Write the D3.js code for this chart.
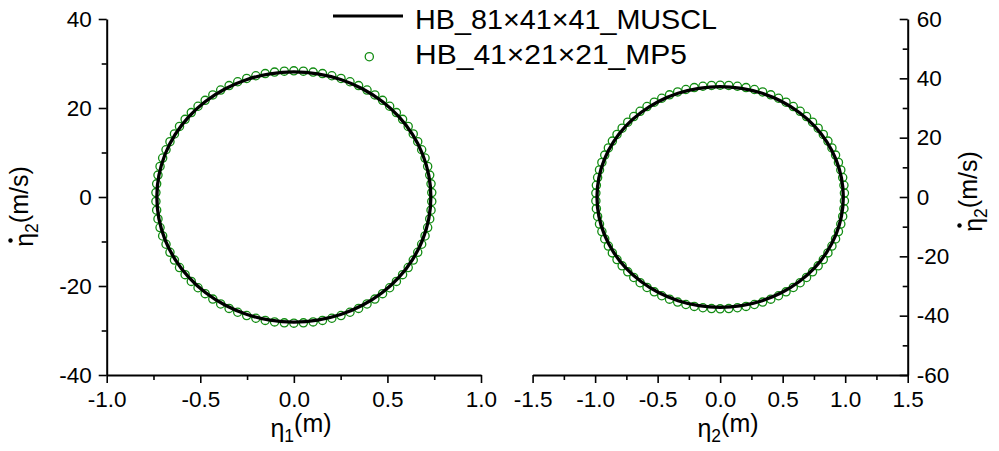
<!DOCTYPE html>
<html><head><meta charset="utf-8">
<script src="https://cdn.jsdelivr.net/npm/d3@7"></script>
<style>body{margin:0;background:#fff}text{font-family:"Liberation Sans",Arial,sans-serif;fill:#000}</style>
</head><body><svg id="c" width="999" height="451"></svg>
<script>
// ---- tick labels ----
const leftXTicks=[-1.0,-0.5,0.0,0.5,1.0];
const leftXMinor=[-0.75,-0.25,0.25,0.75];
const leftYTicks=[-40,-20,0,20,40];
const leftYMinor=[-30,-10,10,30];
const rightXTicks=[-1.5,-1.0,-0.5,0.0,0.5,1.0,1.5];
const rightXMinor=[-1.25,-0.75,-0.25,0.25,0.75,1.25];
const rightYTicks=[-60,-40,-20,0,20,40,60];
const rightYMinor=[-50,-30,-10,10,30,50];
const legendLabels=["HB_81×41×41_MUSCL","HB_41×21×21_MP5"];

// ---- HB_81x41x41_MUSCL (line), left panel: eta1 vs eta2dot ----
const musclLeftX=[0.732,0.721,0.688,0.634,0.561,0.471,0.366,0.250,0.127,0,-0.127,-0.250,-0.366,-0.471,-0.561,-0.634,-0.688,-0.721,-0.732,-0.721,-0.688,-0.634,-0.561,-0.471,-0.366,-0.250,-0.127,0,0.127,0.250,0.366,0.471,0.561,0.634,0.688,0.721];
const musclLeftV=[0,4.88,9.61,14.05,18.06,21.52,24.34,26.41,27.67,28.1,27.67,26.41,24.34,21.52,18.06,14.05,9.61,4.88,0,-4.88,-9.61,-14.05,-18.06,-21.52,-24.34,-26.41,-27.67,-28.1,-27.67,-26.41,-24.34,-21.52,-18.06,-14.05,-9.61,-4.88];
// right panel: eta2 vs eta2dot
const musclRightX=[0.985,0.970,0.926,0.853,0.755,0.633,0.493,0.337,0.171,0,-0.171,-0.337,-0.493,-0.633,-0.755,-0.853,-0.926,-0.970,-0.985,-0.970,-0.926,-0.853,-0.755,-0.633,-0.493,-0.337,-0.171,0,0.171,0.337,0.493,0.633,0.755,0.853,0.926,0.970];
const musclRightV=[0,6.46,12.72,18.60,23.91,28.50,32.22,34.96,36.63,37.20,36.63,34.96,32.22,28.50,23.91,18.60,12.72,6.46,0,-6.46,-12.72,-18.60,-23.91,-28.50,-32.22,-34.96,-36.63,-37.20,-36.63,-34.96,-32.22,-28.50,-23.91,-18.60,-12.72,-6.46];

// ---- HB_41x21x21_MP5 (circles) ----
const mp5LeftX=[0.737,0.733,0.726,0.715,0.701,0.683,0.662,0.638,0.611,0.581,0.548,0.512,0.474,0.433,0.391,0.346,0.300,0.252,0.203,0.153,0.103,0.051,0.000,
-0.051,-0.103,-0.153,-0.203,-0.252,-0.300,-0.346,-0.391,-0.433,-0.474,-0.512,-0.548,-0.581,-0.611,-0.638,-0.662,-0.683,-0.701,-0.715,-0.726,-0.733,-0.737,
-0.737,-0.733,-0.726,-0.715,-0.701,-0.683,-0.662,-0.638,-0.611,-0.581,-0.548,-0.512,-0.474,-0.433,-0.391,-0.346,-0.300,-0.252,-0.203,-0.153,-0.103,-0.051,
0.000,0.051,0.103,0.153,0.203,0.252,0.300,0.346,0.391,0.433,0.474,0.512,0.548,0.581,0.611,0.638,0.662,0.683,0.701,0.715,0.726,0.733,0.737];
const mp5LeftV=[0.99,2.96,4.92,6.86,8.76,10.62,12.43,14.18,15.85,17.45,18.97,20.39,21.72,22.94,24.04,25.03,25.90,26.64,27.25,27.73,28.07,28.28,28.35,
28.28,28.07,27.73,27.25,26.64,25.90,25.03,24.04,22.94,21.72,20.39,18.97,17.45,15.85,14.18,12.43,10.62,8.76,6.86,4.92,2.96,0.99,
-0.99,-2.96,-4.92,-6.86,-8.76,-10.62,-12.43,-14.18,-15.85,-17.45,-18.97,-20.39,-21.72,-22.94,-24.04,-25.03,-25.90,-26.64,-27.25,-27.73,-28.07,-28.28,
-28.35,-28.28,-28.07,-27.73,-27.25,-26.64,-25.90,-25.03,-24.04,-22.94,-21.72,-20.39,-18.97,-17.45,-15.85,-14.18,-12.43,-10.62,-8.76,-6.86,-4.92,-2.96,-0.99];
const mp5RightX=[0.994,0.990,0.980,0.965,0.946,0.923,0.894,0.862,0.825,0.784,0.739,0.691,0.640,0.585,0.527,0.467,0.405,0.340,0.274,0.207,0.138,0.069,0.000,
-0.069,-0.138,-0.207,-0.274,-0.340,-0.405,-0.467,-0.527,-0.585,-0.640,-0.691,-0.739,-0.784,-0.825,-0.862,-0.894,-0.923,-0.946,-0.965,-0.980,-0.990,-0.994,
-0.994,-0.990,-0.980,-0.965,-0.946,-0.923,-0.894,-0.862,-0.825,-0.784,-0.739,-0.691,-0.640,-0.585,-0.527,-0.467,-0.405,-0.340,-0.274,-0.207,-0.138,-0.069,
0.000,0.069,0.138,0.207,0.274,0.340,0.405,0.467,0.527,0.585,0.640,0.691,0.739,0.784,0.825,0.862,0.894,0.923,0.946,0.965,0.980,0.990,0.994];
const mp5RightV=[1.32,3.94,6.55,9.12,11.65,14.12,16.53,18.85,21.08,23.21,25.23,27.12,28.88,30.50,31.97,33.29,34.44,35.43,36.24,36.88,37.33,37.61,37.70,
37.61,37.33,36.88,36.24,35.43,34.44,33.29,31.97,30.50,28.88,27.12,25.23,23.21,21.08,18.85,16.53,14.12,11.65,9.12,6.55,3.94,1.32,
-1.32,-3.94,-6.55,-9.12,-11.65,-14.12,-16.53,-18.85,-21.08,-23.21,-25.23,-27.12,-28.88,-30.50,-31.97,-33.29,-34.44,-35.43,-36.24,-36.88,-37.33,-37.61,
-37.70,-37.61,-37.33,-36.88,-36.24,-35.43,-34.44,-33.29,-31.97,-30.50,-28.88,-27.12,-25.23,-23.21,-21.08,-18.85,-16.53,-14.12,-11.65,-9.12,-6.55,-3.94,-1.32];

const svg=d3.select("#c");
const GREEN="#128c12";
const TICKFONT=22.5, LABELFONT=25;

const panels=[
  {xd:[-1,1],xr:[106.7,481],yd:[-40,40],xt:leftXTicks,xm:leftXMinor,yt:leftYTicks,ym:leftYMinor,
   lx:musclLeftX,lv:musclLeftV,cx:mp5LeftX,cv:mp5LeftV,side:"left",sub:"1",ysub:"2",
   xlab:[301,437],ylab:[33,206.5]},
  {xd:[-1.5,1.5],xr:[532.6,907.7],yd:[-60,60],xt:rightXTicks,xm:rightXMinor,yt:rightYTicks,ym:rightYMinor,
   lx:musclRightX,lv:musclRightV,cx:mp5RightX,cv:mp5RightV,side:"right",sub:"2",ysub:"2",
   xlab:[728,437],ylab:[982,191.5]}
];
const yRange=[375,19];

function styleAxis(g,minor){
  g.selectAll(".domain").attr("stroke","#000").attr("stroke-width",2);
  g.selectAll(".tick line").attr("stroke","#000").attr("stroke-width",1.6);
  g.selectAll(".tick text").attr("font-size",TICKFONT).attr("font-family","Liberation Sans, Arial, sans-serif").attr("fill","#000");
  if(minor) g.select(".domain").remove();
}

panels.forEach(p=>{
  const x=d3.scaleLinear().domain(p.xd).range(p.xr);
  const y=d3.scaleLinear().domain(p.yd).range(yRange);
  const fx=d=>d.toFixed(1), fy=d=>String(d);

  // x axis
  svg.append("g").attr("transform",`translate(0,${yRange[0]})`)
    .call(d3.axisBottom(x).tickValues(p.xm).tickSize(5).tickSizeOuter(0).tickFormat(""))
    .call(g=>styleAxis(g,true));
  svg.append("g").attr("transform",`translate(0,${yRange[0]})`)
    .call(d3.axisBottom(x).tickValues(p.xt).tickSize(8).tickSizeOuter(0).tickPadding(8.5).tickFormat(fx))
    .call(g=>styleAxis(g,false));

  // y axis
  if(p.side==="left"){
    const X0=p.xr[0];
    svg.append("g").attr("transform",`translate(${X0},0)`)
      .call(d3.axisLeft(y).tickValues(p.ym).tickSize(5).tickSizeOuter(0).tickFormat(""))
      .call(g=>styleAxis(g,true));
    svg.append("g").attr("transform",`translate(${X0},0)`)
      .call(d3.axisLeft(y).tickValues(p.yt).tickSize(8).tickSizeOuter(0).tickPadding(7).tickFormat(fy))
      .call(g=>styleAxis(g,false));
  } else {
    const X1=p.xr[1];
    svg.append("g").attr("transform",`translate(${X1},0)`)
      .call(d3.axisRight(y).tickValues(p.ym).tickSize(-5).tickSizeOuter(0).tickFormat(""))
      .call(g=>styleAxis(g,true));
    svg.append("g").attr("transform",`translate(${X1},0)`)
      .call(d3.axisRight(y).tickValues(p.yt).tickSize(-8).tickSizeOuter(0).tickPadding(9).tickFormat(fy))
      .call(g=>styleAxis(g,false));
  }

  // MP5 circles
  svg.append("g").selectAll("circle").data(p.cx.map((v,i)=>[v,p.cv[i]])).join("circle")
    .attr("cx",d=>x(d[0])).attr("cy",d=>y(d[1])).attr("r",4.1)
    .attr("fill","none").attr("stroke",GREEN).attr("stroke-width",1.3);

  // MUSCL line
  const line=d3.line().x(d=>x(d[0])).y(d=>y(d[1])).curve(d3.curveCatmullRomClosed);
  svg.append("path").datum(p.lx.map((v,i)=>[v,p.lv[i]]))
    .attr("d",line).attr("fill","none").attr("stroke","#000").attr("stroke-width",3.3);

  // x label
  const xl=svg.append("text").attr("x",p.xlab[0]).attr("y",p.xlab[1]).attr("text-anchor","middle").attr("font-size",LABELFONT);
  xl.append("tspan").text("η");
  xl.append("tspan").attr("font-size",LABELFONT*0.7).attr("dy","0.28em").text(p.sub);
  xl.append("tspan").attr("dy","-0.4em").text("(m)");

  // y label (rotated)
  const yg=svg.append("g").attr("transform",`translate(${p.ylab[0]},${p.ylab[1]}) rotate(-90)`);
  const yl=yg.append("text").attr("x",0).attr("y",0).attr("text-anchor","middle").attr("font-size",LABELFONT);
  yl.append("tspan").text("η");
  yl.append("tspan").attr("font-size",LABELFONT*0.7).attr("dy","0.28em").text(p.ysub);
  yl.append("tspan").attr("dy","-0.4em").text("(m/s)");
  const ext=yl.node().getExtentOfChar(0);
  yg.append("circle").attr("cx",ext.x+ext.width*0.45).attr("cy",-LABELFONT*0.9).attr("r",2.2).attr("fill","#000");
});

// legend
const lg=svg.append("g");
lg.append("line").attr("x1",333).attr("x2",403).attr("y1",16).attr("y2",16).attr("stroke","#000").attr("stroke-width",3);
lg.append("text").attr("x",415).attr("y",29).attr("font-size",28).attr("textLength",302).attr("lengthAdjust","spacingAndGlyphs").text(legendLabels[0]);
lg.append("circle").attr("cx",369.3).attr("cy",56.7).attr("r",4.1).attr("fill","none").attr("stroke",GREEN).attr("stroke-width",1.3);
lg.append("text").attr("x",415).attr("y",64).attr("font-size",28).attr("textLength",272).attr("lengthAdjust","spacingAndGlyphs").text(legendLabels[1]);
</script></body></html>
